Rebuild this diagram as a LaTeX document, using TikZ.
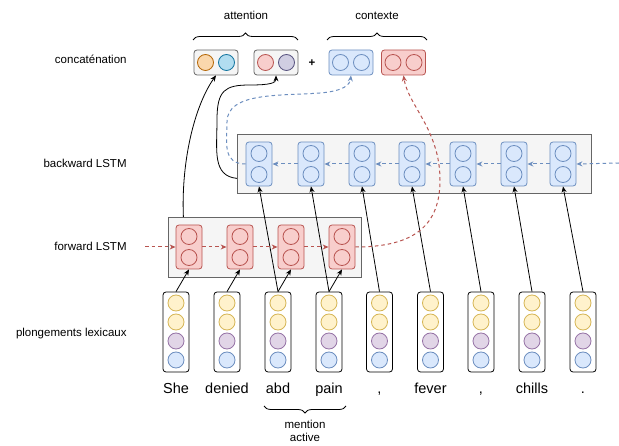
\documentclass[tikz,border=0pt]{standalone}
\usepackage{fontspec}
\setmainfont{Liberation Sans}
\usetikzlibrary{arrows.meta,decorations.pathreplacing,calc}
\definecolor{blueF}{HTML}{DAE8FC}\definecolor{blueD}{HTML}{6C8EBF}
\definecolor{redF}{HTML}{F8CECC}\definecolor{redD}{HTML}{B85450}
\definecolor{yelF}{HTML}{FFF2CC}\definecolor{yelD}{HTML}{D6B656}
\definecolor{purF}{HTML}{E1D5E7}\definecolor{purD}{HTML}{9673A6}
\definecolor{grayF}{HTML}{F5F5F5}\definecolor{grayD}{HTML}{666666}
\definecolor{oranF}{HTML}{FAD7AC}\definecolor{oranD}{HTML}{B46504}
\definecolor{cyanF}{HTML}{B1DDF0}\definecolor{cyanD}{HTML}{10739E}
\definecolor{lavF}{HTML}{D0CEE2}\definecolor{lavD}{HTML}{56517E}
\begin{document}
\begin{tikzpicture}[x=1pt,y=-1pt,line width=0.8pt,
  lbl/.style={font=\fontsize{11.5}{13}\selectfont,inner sep=0},
  word/.style={font=\fontsize{14.5}{16}\selectfont,inner sep=0,anchor=base},
  cont/.style={draw=grayD,fill=grayF,inner sep=0,anchor=north west},
  cellbox/.style={rounded corners=3pt,inner sep=0,minimum width=26pt,minimum height=44pt},
  circ/.style={circle,inner sep=0,minimum size=16pt},
  embbox/.style={draw=black,fill=white,rounded corners=3pt,inner sep=0,minimum width=26pt,minimum height=80pt},
  catbox/.style={rounded corners=3pt,inner sep=0,minimum width=44pt,minimum height=25pt},
  arr/.style={-{Stealth[length=6pt,width=5pt]},black},
  dsh/.style={line width=1pt,dash pattern=on 3.5pt off 3pt,-{Stealth[length=6pt,width=5pt]}},
  brc/.style={decorate,decoration={brace,amplitude=7pt},line width=0.8pt},
]
\useasboundingbox (0,0) rectangle (619,446);

% left labels
\node[lbl,anchor=base east] (lconcat) at (127,64) {concaténation};
\node[lbl,anchor=base east] (lbwd) at (127,168) {backward LSTM};
\node[lbl,anchor=base east] (lfwd) at (127,251) {forward LSTM};
\node[lbl,anchor=base east] (lemb) at (127,337) {plongements lexicaux};

% top labels and braces
\node[lbl,anchor=base] (tatt) at (246,20) {attention};
\node[lbl,anchor=base] (tctx) at (377,20) {contexte};
\draw[brc] (193,40) -- (298,40);
\draw[brc] (327,40) -- (427,40);

% concatenation boxes
\node[catbox,draw=grayD,fill=grayF] (k1) at (216,62.5) {};
\node[circ,draw=oranD,fill=oranF] (k1a) at (205.5,62.5) {};
\node[circ,draw=cyanD,fill=cyanF] (k1b) at (226.5,62.5) {};
\node[catbox,draw=grayD,fill=grayF] (k2) at (276,62.5) {};
\node[circ,draw=redD,fill=redF] (k2a) at (265.5,62.5) {};
\node[circ,draw=lavD,fill=lavF] (k2b) at (286.5,62.5) {};
\node[lbl,font=\bfseries\fontsize{11.5}{13}\selectfont] (plus) at (312,63.5) {+};
\node[catbox,draw=blueD,fill=blueF] (k3) at (351,62.5) {};
\node[circ,draw=blueD,fill=blueF] (k3a) at (340.5,62.5) {};
\node[circ,draw=blueD,fill=blueF] (k3b) at (361.5,62.5) {};
\node[catbox,draw=redD,fill=redF] (k4) at (403.5,62.5) {};
\node[circ,draw=redD,fill=redF] (k4a) at (393,62.5) {};
\node[circ,draw=redD,fill=redF] (k4b) at (414,62.5) {};

% containers
\node[cont,minimum width=354pt,minimum height=59pt] (bwd) at (237,134) {};
\node[cont,minimum width=193pt,minimum height=60pt] (fwd) at (168,217) {};

% backward cells
\foreach \i/\x in {1/259,2/311,3/362,4/412,5/463,6/514,7/563}{
  \node[cellbox,draw=blueD,fill=blueF] (b\i) at (\x,164) {};
  \node[circ,draw=blueD,fill=blueF] (b\i u) at (\x,153.5) {};
  \node[circ,draw=blueD,fill=blueF] (b\i d) at (\x,174.5) {};
}
% forward cells
\foreach \i/\x in {1/189,2/240,3/291,4/342}{
  \node[cellbox,draw=redD,fill=redF] (f\i) at (\x,247) {};
  \node[circ,draw=redD,fill=redF] (f\i u) at (\x,236.5) {};
  \node[circ,draw=redD,fill=redF] (f\i d) at (\x,257.5) {};
}
% embeddings
\foreach \i/\x in {1/176,2/227,3/278,4/329,5/379.5,6/430.5,7/481,8/532,9/583}{
  \node[embbox] (e\i) at (\x,332) {};
  \foreach \j/\cc/\y in {1/yel/303,2/yel/322,3/pur/341,4/blue/360}{
    \node[circ,draw=\cc D,fill=\cc F] (e\i c\j) at (\x,\y) {};
  }
}
% words
\node[word] (w1) at (176,394) {She};
\node[word] (w2) at (227,394) {denied};
\node[word] (w3) at (278,394) {abd};
\node[word] (w4) at (329,394) {pain};
\node[word] (w5) at (379.5,394) {,};
\node[word] (w6) at (430.5,394) {fever};
\node[word] (w7) at (481,394) {,};
\node[word] (w8) at (532,394) {chills};
\node[word] (w9) at (583,394) {.};

% mention brace
\draw[brc] (346,406) -- (264,406);
\node[lbl,align=center,anchor=north] (ment) at (305,419.5) {mention\\active};

% embeddings to forward
\foreach \i in {1,2,3,4}{ \draw[arr] (e\i.north) -- (f\i.south); }
% embeddings to backward
\foreach \i/\j in {3/1,4/2,5/3,6/4,7/5,8/6,9/7}{ \draw[arr] (e\i.north) -- (b\j.south); }

% forward recurrence
\coordinate (fin) at (145,247);
\draw[dsh,redD] (fin) -- (f1.west);
\draw[dsh,redD] (f1.east) -- (f2.west);
\draw[dsh,redD] (f2.east) -- (f3.west);
\draw[dsh,redD] (f3.east) -- (f4.west);
\draw[dsh,redD] (f4.east) .. controls (415,247) and (440,225) .. (440,180)
  .. controls (440,130) and (408,105) .. (k4.south);

% backward recurrence
\coordinate (bin) at (619,163);
\draw[dsh,blueD] (bin) -- (b7.east);
\draw[dsh,blueD] (b7.west) -- (b6.east);
\draw[dsh,blueD] (b6.west) -- (b5.east);
\draw[dsh,blueD] (b5.west) -- (b4.east);
\draw[dsh,blueD] (b4.west) -- (b3.east);
\draw[dsh,blueD] (b3.west) -- (b2.east);
\draw[dsh,blueD] (b2.west) -- (b1.east);
\draw[dsh,blueD] (b1.west) .. controls (222,164) and (227,142) .. (227,122)
  .. controls (227,92) and (280,96) .. (320,93)
  .. controls (345,91) and (350,84) .. (k3.south);

% attention connectors
\draw[arr] ([xshift=-81.5pt]fwd.north) .. controls (181,160) and (195,105) .. (k1.south);
\draw[arr] ([yshift=-14.5pt]bwd.west) .. controls (212,176) and (217,150) .. (217,120)
  .. controls (217,90) and (225,85) .. (250,85)
  .. controls (270,85) and (276,83) .. (k2.south);
\end{tikzpicture}
\end{document}
